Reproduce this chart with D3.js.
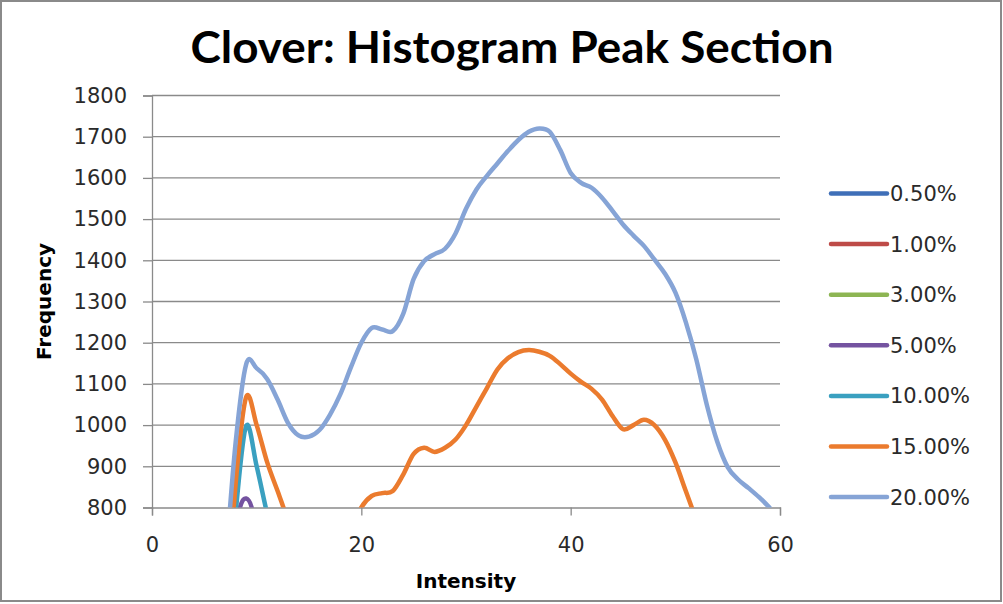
<!DOCTYPE html>
<html><head><meta charset="utf-8">
<script src="https://cdn.jsdelivr.net/npm/d3@7"></script>
<style>body{margin:0;background:#fff}</style>
</head><body><svg id="c" width="1003" height="604"></svg>
<script>
// ---- data ----
const seriesNames = ["0.50%", "1.00%", "3.00%", "5.00%", "10.00%", "15.00%", "20.00%"];
const seriesColors = ["#3F6FB8", "#BE4B48", "#8DB553", "#7453A0", "#3AA0C0", "#EB7B2E", "#86A4D6"];

const x05 = [7, 8, 9, 10, 11];
const v05 = [300, 430, 520, 440, 300];
const x1 = [7, 8, 9, 10, 11];
const v1 = [350, 500, 610, 510, 350];
const x3 = [7, 8, 9, 10, 11];
const v3 = [400, 600, 720, 600, 420];
const x5 = [7, 8, 9, 10, 11];
const v5 = [400, 740, 822, 730, 400];
const x10 = [7, 8, 9, 10, 11, 12];
const v10 = [500, 790, 998, 900, 785, 680];
const x15 = [7, 8, 9, 10, 11, 12, 13, 14, 15, 16, 17, 18, 19, 20, 21, 22, 23, 24, 25, 26, 27, 28, 29, 30,
             31, 32, 33, 34, 35, 36, 37, 38, 39, 40, 41, 42, 43, 44, 45, 46, 47, 48, 49, 50, 51, 52];
const v15 = [500, 860, 1068, 1000, 910, 840, 770, 715, 695, 690, 690, 700, 740, 800, 828, 835, 840, 880, 930, 945,
             935, 945, 965, 1000, 1045, 1090, 1135, 1162, 1177, 1182, 1178, 1168, 1148, 1125, 1105, 1088, 1062,
             1022, 990, 1000, 1013, 1000, 965, 910, 840, 770];
const x20 = [6, 7, 8, 9, 10, 11, 12, 13, 14, 15, 16, 17, 18, 19, 20, 21, 22, 23, 24, 25, 26, 27, 28, 29, 30,
             31, 32, 33, 34, 35, 36, 37, 38, 39, 40, 41, 42, 43, 44, 45, 46, 47, 48, 49, 50, 51, 52, 53, 54,
             55, 56, 57, 58, 59];
const v20 = [300, 650, 960, 1148, 1138, 1112, 1062, 1005, 975, 972, 988, 1025, 1075, 1140, 1200, 1236, 1232,
             1228, 1270, 1355, 1398, 1415, 1428, 1465, 1525, 1572, 1605, 1635, 1665, 1692, 1712, 1720, 1712,
             1668, 1612, 1588, 1576, 1552, 1520, 1487, 1460, 1435, 1402, 1368, 1322, 1250, 1160, 1050, 960,
             898, 868, 847, 825, 800];

const xTicks = [0, 20, 40, 60];
const yTicks = [800, 900, 1000, 1100, 1200, 1300, 1400, 1500, 1600, 1700, 1800];

const titleText = "Clover: Histogram Peak Section";
const xTitle = "Intensity";
const yTitle = "Frequency";

const seriesX = [x05, x1, x3, x5, x10, x15, x20];
const seriesV = [v05, v1, v3, v5, v10, v15, v20];
const series = seriesNames.map((n, i) => ({
  name: n, color: seriesColors[i],
  pts: seriesX[i].map((xv, j) => [xv, seriesV[i][j]])
}));

// ---- chart ----
const svg = d3.select("#c");
const L = 152, R = 780, T = 95.5, B = 507.5;
const x = d3.scaleLinear().domain([0, 60]).range([L, R]);
const y = d3.scaleLinear().domain([800, 1800]).range([B, T]);
const grid = "#8a8a8a";
const tickFont = "DejaVu Sans";

svg.append("rect").attr("x", 1).attr("y", 1).attr("width", 1000).attr("height", 600)
  .attr("fill", "#fff").attr("stroke", "#8a8a8a").attr("stroke-width", 2);

// gridlines
svg.append("g").selectAll("line").data(yTicks.filter(d => d > 800)).join("line")
  .attr("x1", L).attr("x2", R).attr("y1", d => y(d)).attr("y2", d => y(d))
  .attr("stroke", grid).attr("stroke-width", 1.3);

// y axis
const yAxis = svg.append("g").attr("transform", `translate(${L},0)`)
  .call(d3.axisLeft(y).tickValues(yTicks).tickSize(9).tickPadding(16).tickFormat(d3.format("d")));
yAxis.select(".domain").attr("stroke", grid).attr("stroke-width", 1.3);
yAxis.selectAll(".tick line").attr("stroke", grid).attr("stroke-width", 1.3);
yAxis.selectAll(".tick text").attr("font-family", tickFont).attr("font-size", 21).attr("fill", "#2a2a2a");

// x axis
const xAxis = svg.append("g").attr("transform", `translate(0,${B})`)
  .call(d3.axisBottom(x).tickValues(xTicks).tickSize(8).tickPadding(22).tickFormat(d3.format("d")));
xAxis.select(".domain").attr("stroke", grid).attr("stroke-width", 1.3);
xAxis.selectAll(".tick line").attr("stroke", grid).attr("stroke-width", 1.3);
xAxis.selectAll(".tick text").attr("font-family", tickFont).attr("font-size", 21).attr("fill", "#2a2a2a");

// clip
svg.append("clipPath").attr("id", "plotclip").append("rect")
  .attr("x", L).attr("y", T - 10).attr("width", R - L + 5).attr("height", B - T + 10);

const line = d3.line().x(d => x(d[0])).y(d => y(d[1])).curve(d3.curveCatmullRom.alpha(0));
svg.append("g").attr("clip-path", "url(#plotclip)")
  .selectAll("path").data(series).join("path")
  .attr("d", d => line(d.pts)).attr("fill", "none")
  .attr("stroke", d => d.color).attr("stroke-width", 4.5)
  .attr("stroke-linejoin", "round").attr("stroke-linecap", "round");

// title
svg.append("text").attr("x", 512).attr("y", 63).attr("text-anchor", "middle")
  .attr("font-family", "Lato").attr("font-weight", "bold").attr("font-size", 44)
  .attr("textLength", 643).attr("lengthAdjust", "spacingAndGlyphs")
  .attr("fill", "#000").text(titleText);

// axis titles
svg.append("text").attr("x", (L + R) / 2).attr("y", 588).attr("text-anchor", "middle")
  .attr("font-family", "DejaVu Sans").attr("font-weight", "bold").attr("font-size", 20)
  .attr("fill", "#000").text(xTitle);
svg.append("text").attr("transform", `translate(51,${(T + B) / 2}) rotate(-90)`).attr("text-anchor", "middle")
  .attr("font-family", "DejaVu Sans").attr("font-weight", "bold").attr("font-size", 20)
  .attr("fill", "#000").text(yTitle);

// legend
const lg = svg.append("g").selectAll("g").data(series).join("g")
  .attr("transform", (d, i) => `translate(0,${193.5 + i * 50.6})`);
lg.append("line").attr("x1", 831).attr("x2", 887).attr("y1", 0).attr("y2", 0)
  .attr("stroke", d => d.color).attr("stroke-width", 4.5).attr("stroke-linecap", "round");
lg.append("text").attr("x", 890).attr("y", 0).attr("dy", "0.36em")
  .attr("font-family", tickFont).attr("font-size", 21).attr("fill", "#2a2a2a").text(d => d.name);
</script>
</body></html>
